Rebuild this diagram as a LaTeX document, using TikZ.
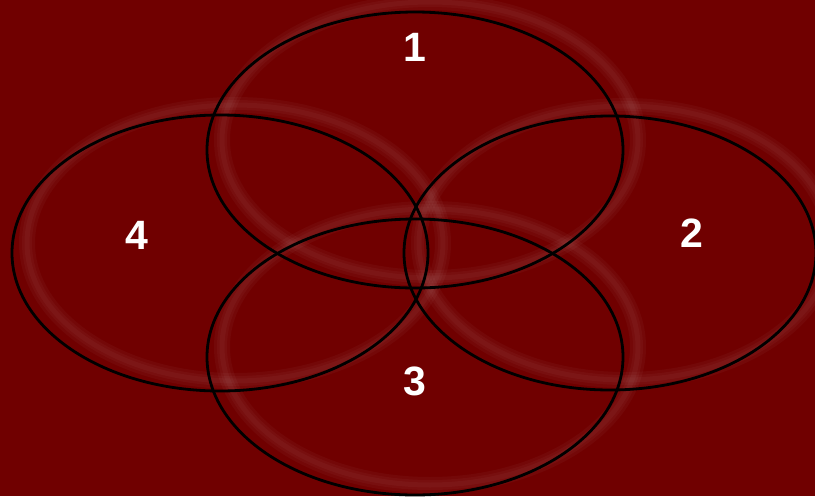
\documentclass[tikz,border=0pt]{standalone}
\usepackage{fontspec}
\setmainfont{Liberation Sans}
\definecolor{bgred}{RGB}{112,0,0}
\begin{document}
\begin{tikzpicture}[x=1pt, y=-1pt,
  ring/.style={draw=black, line width=2.8pt},
  glow/.style={draw=white, line width=#1, draw opacity=0.03},
  num/.style={text=white, font=\fontsize{41}{48}\selectfont\bfseries}]
\useasboundingbox (0,0) rectangle (815,496);
\clip (0,0) rectangle (815,496);
\fill[bgred] (0,0) rectangle (815,496);

\coordinate (c1) at (415,150);
\coordinate (c2) at (610,253);
\coordinate (c3) at (415,357);
\coordinate (c4) at (220,253);

% soft halo, shifted up and right
\draw[glow=16pt] ([shift={(15,-10)}]c1) ellipse [x radius=208, y radius=138];
\draw[glow=10pt] ([shift={(15,-10)}]c1) ellipse [x radius=208, y radius=138];
\draw[glow=5pt] ([shift={(15,-10)}]c1) ellipse [x radius=208, y radius=138];
\draw[glow=16pt] ([shift={(15,-10)}]c2) ellipse [x radius=206, y radius=137];
\draw[glow=10pt] ([shift={(15,-10)}]c2) ellipse [x radius=206, y radius=137];
\draw[glow=5pt] ([shift={(15,-10)}]c2) ellipse [x radius=206, y radius=137];
\draw[glow=16pt] ([shift={(15,-10)}]c3) ellipse [x radius=208, y radius=138];
\draw[glow=10pt] ([shift={(15,-10)}]c3) ellipse [x radius=208, y radius=138];
\draw[glow=5pt] ([shift={(15,-10)}]c3) ellipse [x radius=208, y radius=138];
\draw[glow=16pt] ([shift={(15,-10)}]c4) ellipse [x radius=208, y radius=138];
\draw[glow=10pt] ([shift={(15,-10)}]c4) ellipse [x radius=208, y radius=138];
\draw[glow=5pt] ([shift={(15,-10)}]c4) ellipse [x radius=208, y radius=138];

% outlines
\draw[ring] (c1) ellipse [x radius=208, y radius=138];
\draw[ring] (c2) ellipse [x radius=206, y radius=137];
\draw[ring] (c3) ellipse [x radius=208, y radius=138];
\draw[ring] (c4) ellipse [x radius=208, y radius=138];

\node[num] (n1) at (415,47) {1};
\node[num] (n2) at (692,233) {2};
\node[num] (n3) at (415,381) {3};
\node[num] (n4) at (137,235) {4};
\end{tikzpicture}
\end{document}
